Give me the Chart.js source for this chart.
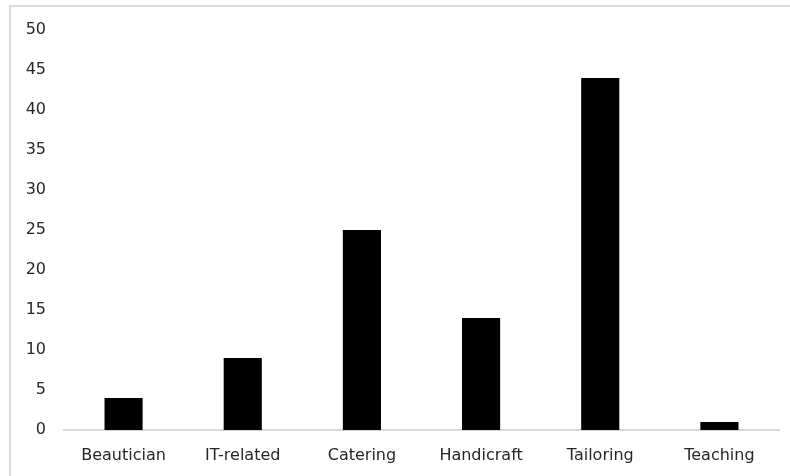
<!DOCTYPE html>
<html>
<head>
<meta charset="utf-8">
<script src="https://cdn.jsdelivr.net/npm/chart.js@4"></script>
<style>
  html, body { margin: 0; padding: 0; background: #fff; overflow: hidden; }
  #wrap { position: relative; width: 790px; height: 476px; overflow: hidden; }
  #frame { position: absolute; left: 9px; top: 5px; width: 1000px; height: 1000px;
           border: 2px solid #d9d9d9; box-sizing: border-box; }
  #c { position: absolute; left: 0; top: 0; }
</style>
</head>
<body>
<div id="wrap">
  <div id="frame"></div>
  <canvas id="c" width="790" height="476"></canvas>
</div>
<script>
// Trainees by vocational skill area
const categories = ['Beautician', 'IT-related', 'Catering', 'Handicraft', 'Tailoring', 'Teaching'];
const counts = [4, 9, 25, 14, 44, 1];
const yMin = 0;
const yMax = 50;
const yStep = 5;

const font = { family: '"DejaVu Sans", "Liberation Sans", sans-serif', size: 16 };
const textColor = '#262626';

new Chart(document.getElementById('c'), {
  type: 'bar',
  data: {
    labels: categories,
    datasets: [{
      data: counts,
      backgroundColor: '#000000',
      borderWidth: 0,
      barPercentage: 0.8,
      categoryPercentage: 0.4
    }]
  },
  options: {
    responsive: false,
    animation: false,
    devicePixelRatio: 1,
    layout: { padding: { left: 0, right: 11, top: 30, bottom: 0 } },
    plugins: { legend: { display: false }, tooltip: { enabled: false } },
    scales: {
      x: {
        grid: { display: false, drawTicks: false },
        border: { display: true, color: '#d9d9d9', width: 2 },
        ticks: { color: textColor, font: font, padding: 16, maxRotation: 0 },
        afterFit(scale) { scale.height = 46; }
      },
      y: {
        min: yMin,
        max: yMax,
        grid: { display: false, drawTicks: false },
        border: { display: false },
        ticks: { stepSize: yStep, color: textColor, font: font, padding: 18 },
        afterFit(scale) { scale.width = 64; }
      }
    }
  }
});
</script>
</body>
</html>
